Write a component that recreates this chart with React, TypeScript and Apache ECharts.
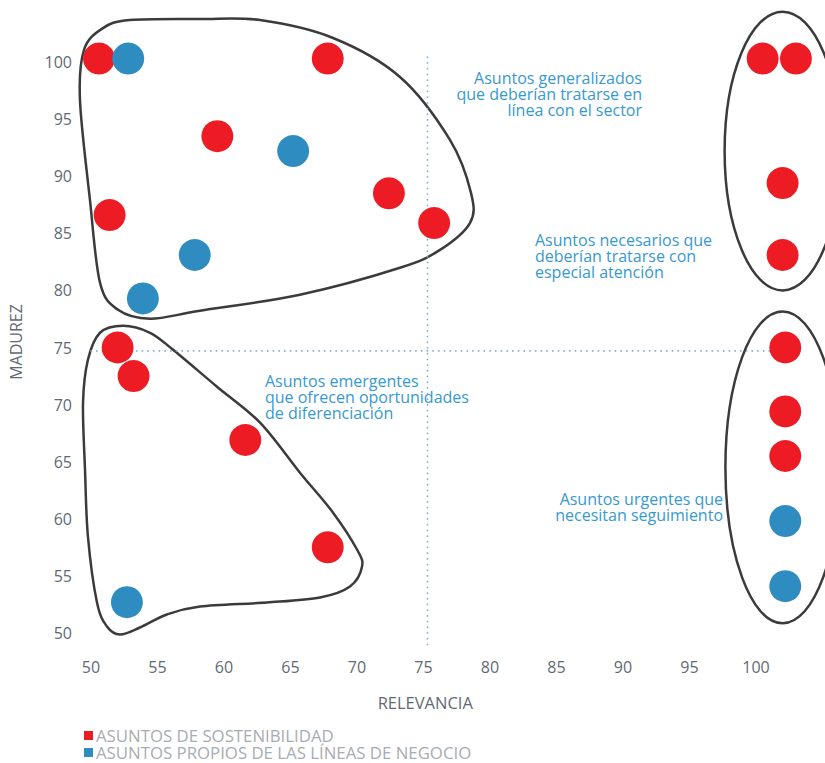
import React, { useEffect, useRef } from 'react';
import * as echarts from 'echarts';

const FONT = "'Open Sans', sans-serif";

const SERIES_NAMES = ['ASUNTOS DE SOSTENIBILIDAD', 'ASUNTOS PROPIOS DE LAS LÍNEAS DE NEGOCIO'];
const COLORS = ['#ed1c24', '#2e8cc0'];

// [relevancia, madurez]
const sostenibilidad: number[][] = [
  [50.6, 100.3], [67.8, 100.3], [59.5, 93.5], [72.4, 88.5], [75.8, 85.9], [51.4, 86.6],
  [100.5, 100.3], [103, 100.3], [102, 89.4], [102, 83.1],
  [52, 75], [53.2, 72.5], [61.6, 66.9], [67.8, 57.5],
  [102.2, 75], [102.2, 69.4], [102.2, 65.5],
];
const lineasNegocio: number[][] = [
  [52.8, 100.3], [65.2, 92.2], [57.8, 83.1], [53.9, 79.3],
  [52.7, 52.7],
  [102.2, 59.8], [102.2, 54.1],
];

const X_NAME = 'RELEVANCIA';
const Y_NAME = 'MADUREZ';

// quadrant divider values
const dividerX = 75.3;
const dividerY = 74.7;

// outlines of the groups (data coordinates)
const blobTopLeft: number[][] = [
  [52.93, 103.67], [58.2, 103.76], [62.71, 103.67], [68.2, 102.1], [73.23, 98.69],
  [76.99, 93.18], [78.57, 88.54], [78.5, 85.92], [76.24, 83.55], [73.23, 81.98],
  [65.71, 79.62], [58.2, 78.22], [54.44, 77.52], [52.03, 78.3], [50.68, 80.66],
  [49.92, 87.93], [49.17, 96.68], [49.47, 101.05], [50.9, 102.97],
];
const blobBottomLeft: number[][] = [
  [52.41, 76.9], [50.68, 76.29], [49.77, 73.93], [49.4, 70.17], [49.55, 64.31],
  [49.77, 58.44], [50.45, 52.67], [51.2, 50.57], [52.18, 49.87], [53.68, 50.48],
  [55.71, 51.62], [58.2, 52.32], [63.23, 52.67], [67.22, 53.11], [69.47, 54.07],
  [70.38, 55.82], [70.0, 57.31], [68.2, 60.54], [65.71, 64.04], [62.71, 68.42],
  [59.47, 71.57], [56.17, 74.8], [54.44, 76.29],
];
const ellipseTopRight = { center: [102.0, 92.2], rx: 4.36, ry: 12.2 };
const ellipseBottomRight = { center: [102.0, 64.5], rx: 4.3, ry: 13.65 };

const enclosures: any[] = [
  { kind: 'blob', points: blobTopLeft },
  { kind: 'blob', points: blobBottomLeft },
  { kind: 'ellipse', ...ellipseTopRight },
  { kind: 'ellipse', ...ellipseBottomRight },
];

const annotations = [
  { text: 'Asuntos generalizados\nque deberían tratarse en\nlínea con el sector', x: 642, y: 70, align: 'right' },
  { text: 'Asuntos necesarios que\ndeberían tratarse con\nespecial atención', x: 535, y: 232, align: 'left' },
  { text: 'Asuntos emergentes\nque ofrecen oportunidades\nde diferenciación', x: 265, y: 373, align: 'left' },
  { text: 'Asuntos urgentes que\nnecesitan seguimiento', x: 723, y: 491, align: 'right' },
];

function closedSpline(pts: number[][]): string {
  const n = pts.length;
  let d = `M${pts[0][0]},${pts[0][1]}`;
  for (let i = 0; i < n; i++) {
    const p0 = pts[(i - 1 + n) % n];
    const p1 = pts[i];
    const p2 = pts[(i + 1) % n];
    const p3 = pts[(i + 2) % n];
    const c1x = p1[0] + (p2[0] - p0[0]) / 6;
    const c1y = p1[1] + (p2[1] - p0[1]) / 6;
    const c2x = p2[0] - (p3[0] - p1[0]) / 6;
    const c2y = p2[1] - (p3[1] - p1[1]) / 6;
    d += ` C${c1x},${c1y} ${c2x},${c2y} ${p2[0]},${p2[1]}`;
  }
  return d + ' Z';
}

export default function App() {
  const ref = useRef<HTMLDivElement>(null);
  useEffect(() => {
    if (!ref.current) return;
    const chart = echarts.init(ref.current, undefined, { renderer: 'svg' });
    const outlineStyle = { fill: 'none', stroke: '#3b3b3b', lineWidth: 2.5 };
    const dotted = { color: '#7eaad6', width: 1.7, type: [0.1, 5.6] as any, cap: 'round' };
    const option: any = {
      animation: false,
      textStyle: { fontFamily: FONT },
      grid: {
        left: 91,
        top: 62,
        width: 731.5,
        height: 571,
        containLabel: false,
        outerBoundsMode: 'none',
      },
      xAxis: {
        type: 'value',
        min: 50,
        max: 105,
        interval: 5,
        name: X_NAME,
        nameLocation: 'middle',
        nameGap: 61,
        nameTextStyle: { color: '#5f6a74', fontSize: 16.5, fontFamily: FONT, padding: [0, 63, 0, 0] },
        axisLine: { show: false },
        axisTick: { show: false },
        splitLine: { show: false },
        axisLabel: {
          color: '#5f6a74',
          fontSize: 16,
          fontFamily: FONT,
          margin: 26,
          formatter: (v: number) => (v > 100 ? '' : String(v)),
        },
      },
      yAxis: {
        type: 'value',
        min: 50,
        max: 100,
        interval: 5,
        name: Y_NAME,
        nameLocation: 'middle',
        nameGap: 67,
        nameTextStyle: { color: '#5f6a74', fontSize: 16, fontFamily: FONT, padding: [0, 0, 0, 11] },
        axisLine: { show: false },
        axisTick: { show: false },
        splitLine: { show: false },
        axisLabel: { color: '#5f6a74', fontSize: 16, fontFamily: FONT, margin: 19 },
      },
      legend: {
        data: SERIES_NAMES,
        orient: 'vertical',
        left: 84,
        top: 727,
        padding: 0,
        itemGap: 0,
        itemWidth: 9,
        itemHeight: 9,
        icon: 'rect',
        selectedMode: false,
        textStyle: { fontSize: 16.8, color: '#a7acb2', fontFamily: FONT, lineHeight: 17, padding: [0, 0, 0, -2] },
      },
      graphic: annotations.map((a) => ({
        type: 'text',
        x: a.x,
        y: a.y,
        silent: true,
        style: {
          text: a.text,
          fill: '#3799cf',
          font: `16px ${FONT}`,
          lineHeight: 16,
          textAlign: a.align,
          textVerticalAlign: 'top',
        },
      })),
      series: [
        {
          type: 'custom',
          name: 'grupos',
          silent: true,
          z: 1,
          clip: false,
          data: enclosures.map((_, i) => [75, 75, i]),
          renderItem: (params: any, api: any) => {
            const s = enclosures[params.dataIndex];
            if (s.kind === 'blob') {
              const pts = s.points.map((p: number[]) => api.coord(p));
              return { type: 'path', shape: { pathData: closedSpline(pts) }, style: outlineStyle };
            }
            const c = api.coord(s.center);
            const sz = api.size([s.rx, s.ry]);
            return { type: 'ellipse', shape: { cx: c[0], cy: c[1], rx: sz[0], ry: sz[1] }, style: outlineStyle };
          },
        },
        {
          type: 'line',
          name: 'divisor-x',
          silent: true,
          symbol: 'none',
          clip: false,
          z: 1,
          lineStyle: dotted,
          data: [[dividerX, 49], [dividerX, 100.6]],
        },
        {
          type: 'line',
          name: 'divisor-y',
          silent: true,
          symbol: 'none',
          clip: false,
          z: 1,
          lineStyle: dotted,
          data: [[50, dividerY], [101, dividerY]],
        },
        {
          type: 'scatter',
          name: SERIES_NAMES[0],
          symbolSize: 32,
          z: 3,
          clip: false,
          itemStyle: { color: COLORS[0], opacity: 1 },
          data: sostenibilidad,
        },
        {
          type: 'scatter',
          name: SERIES_NAMES[1],
          symbolSize: 32,
          z: 3,
          clip: false,
          itemStyle: { color: COLORS[1], opacity: 1 },
          data: lineasNegocio,
        },
      ],
    };
    chart.setOption(option);
    return () => chart.dispose();
  }, []);
  return (
    <div
      ref={ref}
      style={{ position: 'fixed', left: 0, top: 0, width: 825, height: 763, background: '#fff' }}
    />
  );
}
